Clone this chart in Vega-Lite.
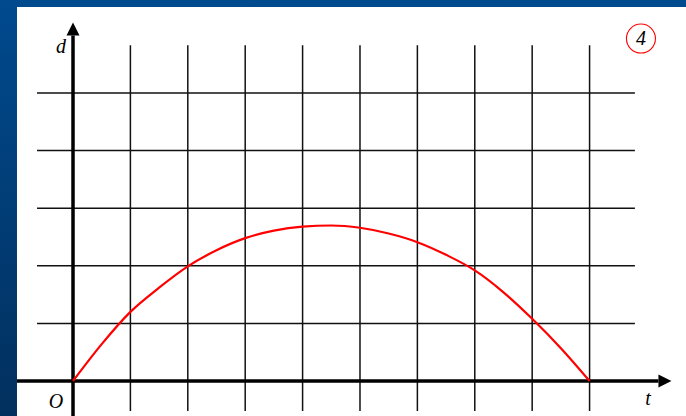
{
  "$schema": "https://vega.github.io/schema/vega-lite/v6.json",
  "width": 686,
  "height": 416,
  "autosize": {"type": "none"},
  "padding": 0,
  "background": "#033f7a",
  "config": {"view": {"stroke": null}},
  "datasets": {
    "bg": [{"x1": -1.272, "x2": 10.68, "y1": -0.608, "y2": 6.615}],
    "panel": [{"x1": -0.976, "x2": 10.68, "y1": -0.608, "y2": 6.493}],
    "vgrid": [
      {"t": 1, "y1": -0.52, "y2": 5.83}, {"t": 2, "y1": -0.52, "y2": 5.83},
      {"t": 3, "y1": -0.52, "y2": 5.83}, {"t": 4, "y1": -0.52, "y2": 5.83},
      {"t": 5, "y1": -0.52, "y2": 5.83}, {"t": 6, "y1": -0.52, "y2": 5.83},
      {"t": 7, "y1": -0.52, "y2": 5.83}, {"t": 8, "y1": -0.52, "y2": 5.83},
      {"t": 9, "y1": -0.52, "y2": 5.83}
    ],
    "hgrid": [
      {"d": 1, "x1": -0.627, "x2": 9.79}, {"d": 2, "x1": -0.627, "x2": 9.79},
      {"d": 3, "x1": -0.627, "x2": 9.79}, {"d": 4, "x1": -0.627, "x2": 9.79},
      {"d": 5, "x1": -0.627, "x2": 9.79}
    ],
    "axes": [
      {"x1": -0.976, "x2": 10.2, "y1": 0, "y2": 0},
      {"x1": 0, "x2": 0, "y1": -0.608, "y2": 6.0}
    ],
    "xhead": [{"t": 10.313, "d": 0}],
    "yhead": [{"t": 0, "d": 6.111}],
    "curve": [
      {"t": 0, "d": 0}, {"t": 0.5, "d": 0.64}, {"t": 1, "d": 1.2},
      {"t": 1.5, "d": 1.62}, {"t": 2, "d": 1.99}, {"t": 2.5, "d": 2.27},
      {"t": 3, "d": 2.48}, {"t": 3.5, "d": 2.61}, {"t": 4, "d": 2.68},
      {"t": 4.5, "d": 2.7}, {"t": 5, "d": 2.66}, {"t": 5.5, "d": 2.56},
      {"t": 6, "d": 2.41}, {"t": 6.5, "d": 2.19}, {"t": 7, "d": 1.92},
      {"t": 7.5, "d": 1.54}, {"t": 8, "d": 1.08}, {"t": 8.5, "d": 0.57},
      {"t": 9, "d": 0}
    ],
    "labels": [
      {"t": -0.209, "d": 5.694, "label": "d"},
      {"t": -0.296, "d": -0.469, "label": "O"},
      {"t": 10.017, "d": -0.417, "label": "t"},
      {"t": 9.895, "d": 5.833, "label": "4"}
    ],
    "badge": [{"t": 9.895, "d": 5.946}]
  },
  "layer": [
    {
      "data": {"name": "bg"},
      "mark": {"type": "rect", "color": {"gradient": "linear", "x1": 0, "y1": 0, "x2": 0, "y2": 1, "stops": [{"offset": 0, "color": "#004a8e"}, {"offset": 1, "color": "#02305e"}]}},
      "encoding": {
        "x": {"field": "x1", "type": "quantitative", "scale": {"domain": [-1.272, 10.68], "nice": false, "zero": false}, "axis": null},
        "x2": {"field": "x2"},
        "y": {"field": "y1", "type": "quantitative", "scale": {"domain": [-0.608, 6.615], "nice": false, "zero": false}, "axis": null},
        "y2": {"field": "y2"}
      }
    },
    {
      "data": {"name": "panel"},
      "mark": {"type": "rect", "color": "#ffffff"},
      "encoding": {
        "x": {"field": "x1", "type": "quantitative"},
        "x2": {"field": "x2"},
        "y": {"field": "y1", "type": "quantitative"},
        "y2": {"field": "y2"}
      }
    },
    {
      "data": {"name": "vgrid"},
      "mark": {"type": "rule", "color": "#111111", "strokeWidth": 1.5},
      "encoding": {
        "x": {"field": "t", "type": "quantitative"},
        "y": {"field": "y1", "type": "quantitative"},
        "y2": {"field": "y2"}
      }
    },
    {
      "data": {"name": "hgrid"},
      "mark": {"type": "rule", "color": "#111111", "strokeWidth": 1.5},
      "encoding": {
        "y": {"field": "d", "type": "quantitative"},
        "x": {"field": "x1", "type": "quantitative"},
        "x2": {"field": "x2"}
      }
    },
    {
      "data": {"name": "axes"},
      "mark": {"type": "rule", "color": "#000000", "strokeWidth": 3.5},
      "encoding": {
        "x": {"field": "x1", "type": "quantitative"},
        "x2": {"field": "x2"},
        "y": {"field": "y1", "type": "quantitative"},
        "y2": {"field": "y2"}
      }
    },
    {
      "data": {"name": "xhead"},
      "mark": {"type": "point", "shape": "M-1,-1L1,0L-1,1Z", "filled": true, "color": "#000000", "size": 169, "opacity": 1},
      "encoding": {
        "x": {"field": "t", "type": "quantitative"},
        "y": {"field": "d", "type": "quantitative"}
      }
    },
    {
      "data": {"name": "yhead"},
      "mark": {"type": "point", "shape": "M-1,1L0,-1L1,1Z", "filled": true, "color": "#000000", "size": 169, "opacity": 1},
      "encoding": {
        "x": {"field": "t", "type": "quantitative"},
        "y": {"field": "d", "type": "quantitative"}
      }
    },
    {
      "data": {"name": "curve"},
      "mark": {"type": "line", "color": "#ff0000", "strokeWidth": 2.2, "interpolate": "monotone"},
      "encoding": {
        "x": {"field": "t", "type": "quantitative"},
        "y": {"field": "d", "type": "quantitative"}
      }
    },
    {
      "data": {"name": "labels"},
      "mark": {"type": "text", "font": "Liberation Serif", "fontStyle": "italic", "fontSize": 20, "color": "#000000", "align": "center", "baseline": "alphabetic"},
      "encoding": {
        "x": {"field": "t", "type": "quantitative"},
        "y": {"field": "d", "type": "quantitative"},
        "text": {"field": "label"}
      }
    },
    {
      "data": {"name": "badge"},
      "mark": {"type": "point", "shape": "circle", "filled": false, "color": "#ff0000", "strokeWidth": 1.1, "size": 841, "opacity": 1},
      "encoding": {
        "x": {"field": "t", "type": "quantitative"},
        "y": {"field": "d", "type": "quantitative"}
      }
    }
  ]
}
